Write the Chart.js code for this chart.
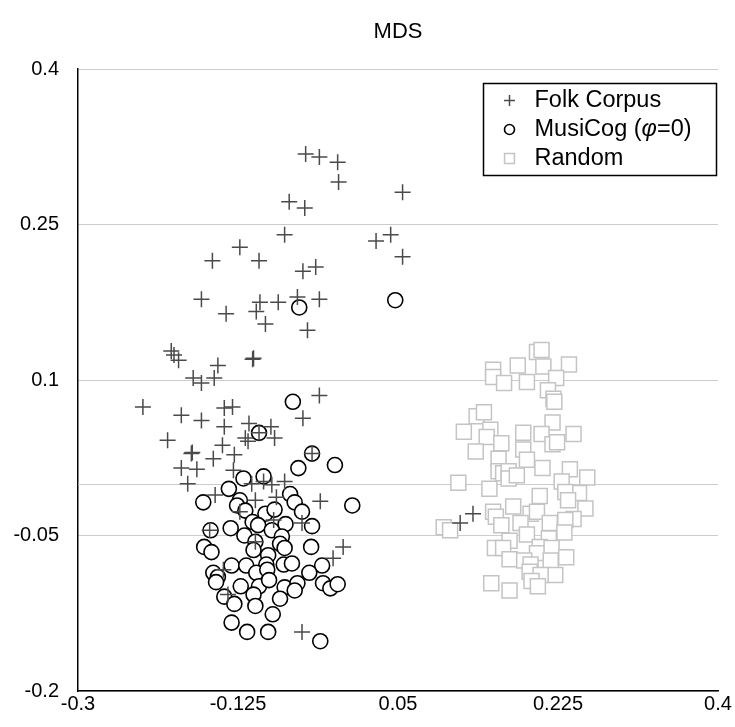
<!DOCTYPE html>
<html>
<head>
<meta charset="utf-8">
<script src="https://cdn.jsdelivr.net/npm/chart.js@4/dist/chart.umd.min.js"></script>
<style>
  html, body { margin: 0; padding: 0; background: #fff; }
</style>
</head>
<body>
<canvas id="mds" width="735" height="727"></canvas>
<script>
const xTicks = [-0.3, -0.125, 0.05, 0.225, 0.4];
const yTicks = [-0.2, -0.05, 0.1, 0.25, 0.4];
const seriesNames = ['Folk Corpus', 'MusiCog (φ=0)', 'Random'];
const chartTitle = 'MDS';

// MDS coordinates, [x, y]
const folkPoints = [
  [-0.051, 0.318], [-0.036, 0.315], [-0.016, 0.310], [-0.015, 0.291], [0.055, 0.281],
  [-0.069, 0.272], [-0.052, 0.266], [-0.074, 0.240], [0.026, 0.234], [0.042, 0.240],
  [0.055, 0.219], [-0.123, 0.228], [-0.153, 0.215], [-0.102, 0.215], [-0.054, 0.205],
  [-0.040, 0.209], [-0.165, 0.178], [-0.138, 0.164], [-0.101, 0.175], [-0.081, 0.175],
  [-0.060, 0.180], [-0.036, 0.178], [-0.105, 0.166], [-0.095, 0.154], [-0.049, 0.148],
  [-0.198, 0.128], [-0.195, 0.124], [-0.190, 0.119], [-0.109, 0.120], [-0.108, 0.121],
  [-0.147, 0.114], [-0.174, 0.102], [-0.165, 0.097], [-0.151, 0.102], [-0.229, 0.074],
  [-0.140, 0.073], [-0.131, 0.074], [-0.187, 0.066], [-0.165, 0.061], [-0.140, 0.055],
  [-0.113, 0.058], [-0.089, 0.055], [-0.202, 0.042], [-0.117, 0.044], [-0.114, 0.041],
  [-0.085, 0.044], [-0.102, 0.049], [-0.036, 0.085], [-0.054, 0.063], [-0.142, 0.037],
  [-0.176, 0.029], [-0.175, 0.030], [-0.152, 0.024], [-0.129, 0.028], [-0.187, 0.015],
  [-0.170, 0.014], [-0.180, 0.000], [-0.130, 0.013], [-0.074, 0.002], [-0.044, 0.029],
  [-0.150, -0.011], [-0.110, 0.000], [-0.097, 0.002], [-0.106, -0.016], [-0.083, -0.013],
  [-0.035, -0.017], [-0.055, -0.038], [-0.156, -0.045], [-0.010, -0.061], [-0.021, -0.072],
  [-0.055, -0.143], [-0.123, -0.027], [-0.086, -0.035], [-0.106, -0.056], [-0.141, -0.083],
  [-0.136, -0.107], [0.118, -0.038], [0.132, -0.029], [-0.088, -0.001]
];

const musiPoints = [
  [-0.058, 0.170], [0.047, 0.177], [-0.065, 0.079], [-0.102, 0.049], [-0.044, 0.029],
  [-0.059, 0.015], [-0.019, 0.018], [-0.119, 0.005], [-0.097, 0.007], [-0.135, -0.005],
  [-0.163, -0.018], [-0.123, -0.016], [-0.126, -0.021], [-0.117, -0.026], [-0.068, -0.010],
  [-0.063, -0.018], [-0.055, -0.027], [0.000, -0.021], [-0.095, -0.029], [-0.085, -0.025],
  [-0.109, -0.037], [-0.103, -0.040], [-0.073, -0.039], [-0.044, -0.041], [-0.133, -0.043],
  [-0.155, -0.045], [-0.088, -0.045], [-0.118, -0.050], [-0.077, -0.051], [-0.079, -0.058],
  [-0.074, -0.062], [-0.162, -0.061], [-0.154, -0.066], [-0.106, -0.056], [-0.108, -0.064],
  [-0.045, -0.061], [-0.092, -0.069], [-0.132, -0.079], [-0.116, -0.079], [-0.094, -0.078],
  [-0.075, -0.078], [-0.066, -0.077], [-0.033, -0.079], [-0.152, -0.086], [-0.147, -0.090],
  [-0.105, -0.086], [-0.093, -0.083], [-0.047, -0.086], [-0.149, -0.095], [-0.122, -0.099],
  [-0.102, -0.099], [-0.091, -0.093], [-0.074, -0.100], [-0.060, -0.096], [-0.063, -0.103],
  [-0.032, -0.096], [-0.024, -0.101], [-0.016, -0.097], [-0.140, -0.109], [-0.108, -0.107],
  [-0.079, -0.111], [-0.129, -0.116], [-0.106, -0.118], [-0.087, -0.126], [-0.132, -0.134],
  [-0.115, -0.143], [-0.092, -0.143], [-0.035, -0.152]
];

const randomPoints = [
  [0.202, 0.127], [0.207, 0.129], [0.154, 0.110], [0.154, 0.103], [0.181, 0.114],
  [0.209, 0.113], [0.237, 0.115], [0.166, 0.097], [0.191, 0.098], [0.223, 0.102],
  [0.214, 0.090], [0.220, 0.082], [0.221, 0.079], [0.136, 0.065], [0.144, 0.069],
  [0.219, 0.059], [0.122, 0.050], [0.151, 0.052], [0.147, 0.045], [0.163, 0.039],
  [0.187, 0.049], [0.207, 0.048], [0.219, 0.038], [0.224, 0.040], [0.242, 0.048],
  [0.135, 0.031], [0.187, 0.033], [0.160, 0.024], [0.191, 0.023], [0.208, 0.015],
  [0.160, 0.012], [0.165, 0.010], [0.171, 0.012], [0.171, 0.005], [0.180, 0.008],
  [0.238, 0.014], [0.257, 0.006], [0.229, 0.002], [0.116, 0.001], [0.150, -0.005],
  [0.248, -0.009], [0.233, -0.008], [0.236, -0.016], [0.205, -0.012], [0.255, -0.024],
  [0.176, -0.022], [0.154, -0.027], [0.157, -0.032], [0.195, -0.029], [0.202, -0.027],
  [0.184, -0.038], [0.242, -0.034], [0.233, -0.035], [0.216, -0.038], [0.163, -0.040],
  [0.100, -0.042], [0.107, -0.045], [0.191, -0.049], [0.172, -0.055], [0.232, -0.047],
  [0.215, -0.053], [0.156, -0.062], [0.165, -0.062], [0.205, -0.061], [0.202, -0.067],
  [0.218, -0.062], [0.172, -0.073], [0.188, -0.074], [0.195, -0.078], [0.217, -0.074],
  [0.234, -0.071], [0.222, -0.088], [0.194, -0.085], [0.206, -0.088], [0.152, -0.096],
  [0.172, -0.103], [0.196, -0.094], [0.203, -0.099]
];

const FONT = '"Liberation Sans", Arial, Helvetica, sans-serif';
Chart.defaults.font.family = FONT;
Chart.defaults.color = '#000';

const toXY = pts => pts.map(p => ({ x: p[0], y: p[1] }));
const fmt = v => String(+v.toFixed(3));
const gridGray = '#cccccc';

// horizontal line through y = 0
const zeroLine = {
  id: 'zeroLine',
  beforeDatasetsDraw(chart) {
    const { ctx, chartArea, scales } = chart;
    const y = Math.round(scales.y.getPixelForValue(0)) + 0.5;
    ctx.save();
    ctx.strokeStyle = gridGray;
    ctx.lineWidth = 1;
    ctx.beginPath();
    ctx.moveTo(chartArea.left, y);
    ctx.lineTo(chartArea.right, y);
    ctx.stroke();
    ctx.restore();
  }
};

// title centred over the plot area rather than the whole canvas
const plotTitle = {
  id: 'plotTitle',
  afterDraw(chart) {
    const { ctx, chartArea } = chart;
    ctx.save();
    ctx.font = '22px ' + FONT;
    ctx.fillStyle = '#000';
    ctx.textAlign = 'center';
    ctx.textBaseline = 'middle';
    ctx.fillText(chartTitle, (chartArea.left + chartArea.right) / 2, 32);
    ctx.restore();
  }
};

// boxed legend in the upper right of the plot
const legendRadius = [5.5, 5, 7];
const boxedLegend = {
  id: 'boxedLegend',
  afterDraw(chart) {
    const { ctx, chartArea } = chart;
    const w = 233, h = 92;
    const left = chartArea.right - w - 1.5;
    const top = chartArea.top + 14.5;
    ctx.save();
    ctx.fillStyle = '#fff';
    ctx.fillRect(left, top, w, h);
    ctx.strokeStyle = '#000';
    ctx.lineWidth = 1.5;
    ctx.strokeRect(left, top, w, h);
    ctx.textBaseline = 'middle';
    chart.data.datasets.forEach((ds, i) => {
      const y = top + 17 + i * 29;
      ctx.fillStyle = ds.backgroundColor;
      ctx.strokeStyle = ds.borderColor;
      ctx.lineWidth = ds.borderWidth;
      Chart.helpers.drawPoint(ctx, {
        pointStyle: ds.pointStyle, radius: legendRadius[i], borderWidth: ds.borderWidth, rotation: 0
      }, left + 26, y);
      let x = left + 51;
      ctx.fillStyle = '#000';
      ds.label.split(/(φ)/).forEach(part => {
        ctx.font = (part === 'φ' ? 'italic ' : '') + '23.5px ' + FONT;
        ctx.fillText(part, x, y);
        x += ctx.measureText(part).width;
      });
    });
    ctx.restore();
  }
};

new Chart(document.getElementById('mds'), {
  type: 'scatter',
  data: {
    datasets: [
      {
        label: seriesNames[0],
        data: toXY(folkPoints),
        pointStyle: 'cross',
        pointRadius: 8,
        borderColor: '#4a4a4a',
        backgroundColor: '#4a4a4a',
        borderWidth: 1.5
      },
      {
        label: seriesNames[1],
        data: toXY(musiPoints),
        pointStyle: 'circle',
        pointRadius: 7.5,
        borderColor: '#000',
        backgroundColor: '#fff',
        borderWidth: 1.6
      },
      {
        label: seriesNames[2],
        data: toXY(randomPoints),
        pointStyle: 'rect',
        pointRadius: 10.6,
        borderColor: '#c4c4c4',
        backgroundColor: '#fff',
        borderWidth: 1.5
      }
    ]
  },
  options: {
    responsive: false,
    animation: false,
    devicePixelRatio: 1,
    layout: { padding: { left: 0, right: 17, top: 69, bottom: 0 } },
    plugins: {
      legend: { display: false },
      tooltip: { enabled: false },
      title: { display: false }
    },
    scales: {
      x: {
        type: 'linear',
        min: xTicks[0],
        max: xTicks[xTicks.length - 1],
        afterBuildTicks: s => { s.ticks = xTicks.map(v => ({ value: v })); },
        afterFit: s => { s.height = 36; },
        ticks: { callback: fmt, font: { size: 20 }, padding: 1, maxRotation: 0, autoSkip: false, color: '#000' },
        grid: { display: false, drawTicks: false },
        border: { display: true, color: '#000', width: 1.5 }
      },
      y: {
        type: 'linear',
        min: yTicks[0],
        max: yTicks[yTicks.length - 1],
        afterBuildTicks: s => { s.ticks = yTicks.map(v => ({ value: v })); },
        afterFit: s => { s.width = 78; },
        ticks: { callback: fmt, font: { size: 20 }, padding: 19, color: '#000' },
        grid: { color: gridGray, lineWidth: 1, drawTicks: false },
        border: { display: true, color: '#000', width: 1.5 }
      }
    }
  },
  plugins: [zeroLine, plotTitle, boxedLegend]
});
</script>
</body>
</html>
